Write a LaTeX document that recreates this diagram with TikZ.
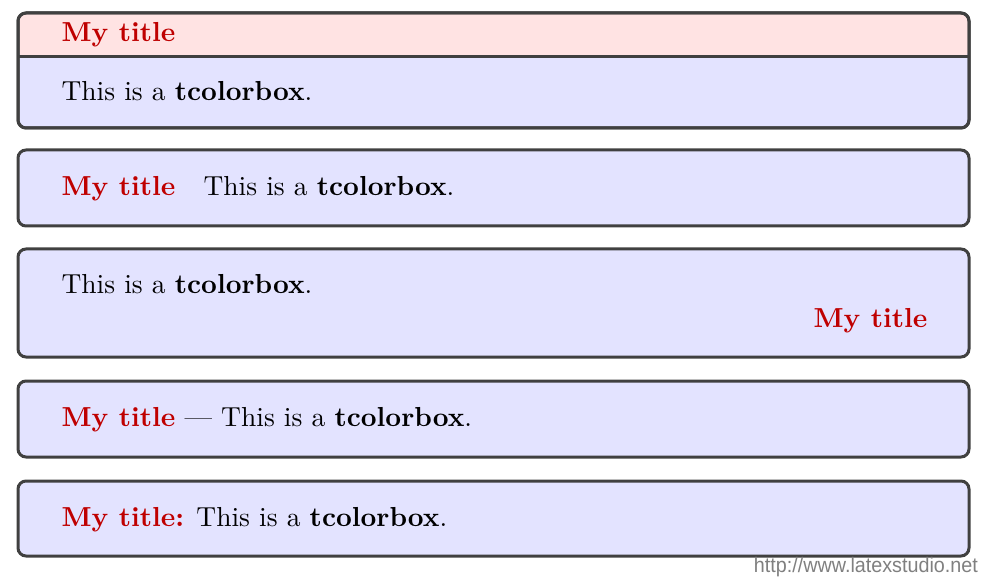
\documentclass[tikz,border=0pt]{standalone}
\usepackage{fontspec}
\newfontfamily\wmfont{Liberation Sans}
\definecolor{frame}{HTML}{404040}
\definecolor{bodyback}{HTML}{E3E3FF}
\definecolor{titleback}{HTML}{FFE3E3}
\definecolor{titlered}{HTML}{BF0000}
\tikzset{
  tbox/.style={draw=frame, line width=3pt, fill=bodyback, rounded corners=8pt,
    minimum width=951pt, inner sep=0pt, outer sep=0pt},
  txt/.style={anchor=base west, inner sep=0pt, scale=2.75, font=\fontsize{10}{12}\selectfont},
  ttl/.style={txt, text=titlered, font=\fontsize{10}{12}\selectfont\bfseries},
}
\newcommand{\tcb}{This is a \textbf{tcolorbox}.}
\begin{document}
\begin{tikzpicture}[x=1pt,y=-1pt]
\useasboundingbox (0,0) rectangle (983,580);
% box 1
\node[tbox, minimum height=115pt,
  path picture={\fill[titleback] (path picture bounding box.north west) rectangle ([yshift=-44pt]path picture bounding box.north east);}]
  (b1) at (493.5,70.5) {};
\coordinate (s1l) at (18,57);
\coordinate (s1r) at (969,57);
\draw[frame, line width=3pt] (s1l) -- (s1r);
\draw[frame, line width=3pt, rounded corners=8pt] (b1.north west) rectangle (b1.south east);
\node[ttl] (t1) at (61,42) {My title};
\node[txt] (c1) at (61,101) {\tcb};
% box 2
\node[tbox, minimum height=76pt] (b2) at (493.5,188) {};
\node[ttl] (t2) at (61,196) {My title};
\node[txt] (c2) at (203,196) {\tcb};
% box 3
\node[tbox, minimum height=108pt] (b3) at (493.5,303) {};
\node[txt] (c3) at (61,294) {\tcb};
\node[ttl, anchor=base east] (t3) at (928,327) {My title};
% box 4
\node[tbox, minimum height=76pt] (b4) at (493.5,419) {};
\node[txt] (c4) at (61,426) {\textcolor{titlered}{\bfseries My title} --- \tcb};
% box 5
\node[tbox, minimum height=75pt] (b5) at (493.5,518.5) {};
\node[txt] (c5) at (61,526) {\textcolor{titlered}{\bfseries My title:} \tcb};
% watermark
\node[anchor=base east, inner sep=0pt, text=gray, xscale=0.94, font=\wmfont\fontsize{21}{24}\selectfont] (wm) at (978,572) {http://www.latexstudio.net};
\end{tikzpicture}
\end{document}
